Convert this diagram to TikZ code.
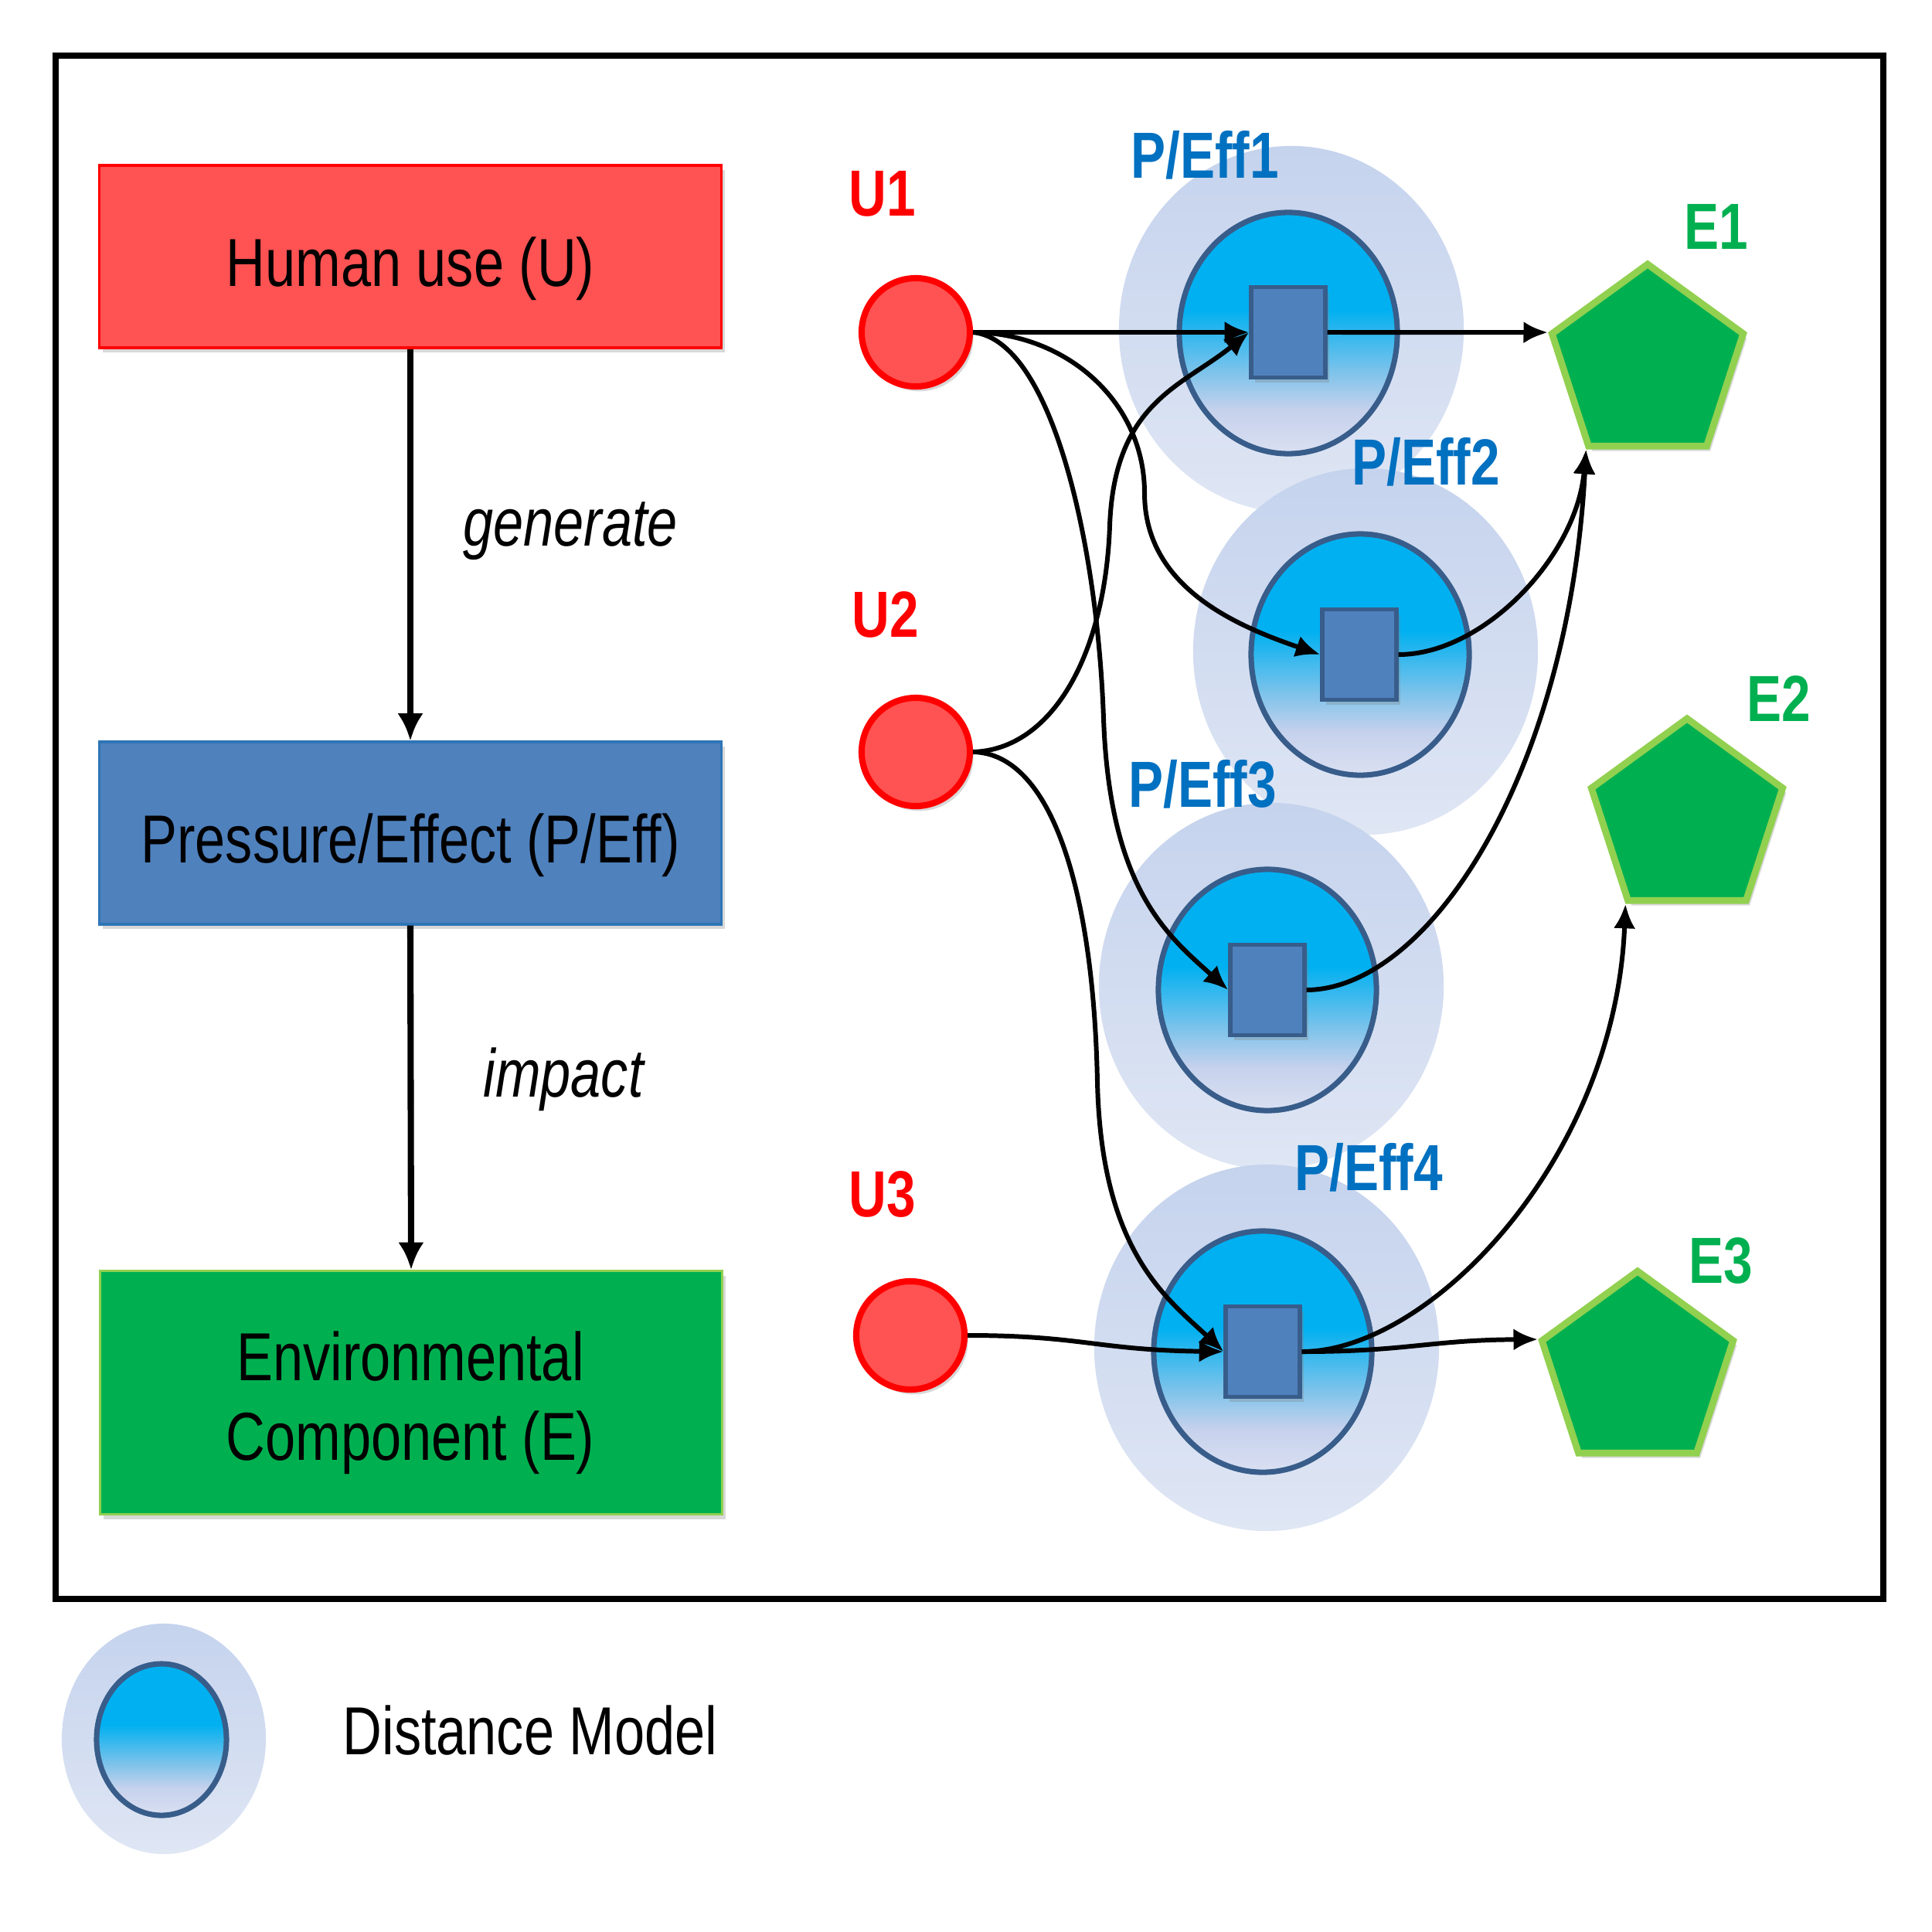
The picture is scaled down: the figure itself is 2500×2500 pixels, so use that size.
\documentclass[tikz,border=0pt]{standalone}
\usepackage{fontspec}
\usepackage{graphicx}
\newfontfamily\cf[FakeStretch=0.8]{Liberation Sans}
\usetikzlibrary{shapes.geometric,arrows.meta,shadows}
\definecolor{ufill}{RGB}{255,82,82}
\definecolor{uline}{RGB}{255,0,0}
\definecolor{pfill}{RGB}{79,129,189}
\definecolor{pline}{RGB}{56,93,138}
\definecolor{pboxline}{RGB}{46,117,182}
\definecolor{efill}{RGB}{0,176,80}
\definecolor{eline}{RGB}{146,208,80}
\definecolor{plabel}{RGB}{0,112,192}
\definecolor{halotop}{RGB}{197,211,237}
\definecolor{halobot}{RGB}{223,230,244}
\definecolor{intop}{RGB}{0,176,240}
\definecolor{inlight}{RGB}{125,195,235}
\definecolor{inlav}{RGB}{198,209,236}
\definecolor{inbot}{RGB}{218,224,242}
\pgfdeclareverticalshading{inshade}{100bp}{color(0bp)=(inbot); color(25bp)=(inbot); color(34bp)=(inlav); color(42bp)=(inlight); color(55bp)=(intop); color(100bp)=(intop)}
\tikzset{
  shad/.style={drop shadow={shadow xshift=1.3pt, shadow yshift=-1.8pt, opacity=0.3}},
  bigbox/.style={rectangle, minimum width=8.04cm, line width=0.9pt, shad},
  ucirc/.style={circle, minimum size=1.40cm, inner sep=0pt, fill=ufill, draw=uline, line width=2.3pt, shad},
  halo/.style={ellipse, minimum width=4.46cm, minimum height=4.74cm, inner sep=0pt, top color=halotop, bottom color=halobot, draw=none},
  inner/.style={ellipse, minimum width=2.82cm, minimum height=3.12cm, inner sep=0pt, shading=inshade, draw=pline, line width=2pt},
  sq/.style={rectangle, minimum width=0.96cm, minimum height=1.17cm, inner sep=0pt, fill=pfill, draw=pline, line width=1.5pt, shad},
  pent/.style={regular polygon, regular polygon sides=5, minimum size=2.6cm, inner sep=0pt, fill=efill, draw=eline, line width=2.5pt, shad},
  boxtxt/.style={font=\cf\fontsize{25}{30}\selectfont, anchor=base, inner sep=0pt},
  lab/.style={font=\cf\bfseries\fontsize{24}{28}\selectfont, anchor=base, inner sep=0pt},
  arr/.style={-{Latex[length=9pt,width=8pt]}, line width=1.7pt},
  bigarr/.style={-{Latex[length=10pt,width=9.5pt]}, line width=2.3pt},
}
\begin{document}
\begin{tikzpicture}[x=0.01cm,y=-0.01cm]
\useasboundingbox (0,0) rectangle (2500,2500);
\fill[white] (0,0) rectangle (2500,2500);
% frame
\node[draw, line width=2.3pt, minimum width=23.63cm, minimum height=19.95cm, inner sep=0pt] (frame) at (1254.5,1070.5) {};
% left boxes
\node[bigbox, minimum height=2.36cm, fill=ufill, draw=uline] (hu) at (531,332) {};
\node[bigbox, minimum height=2.36cm, fill=pfill, draw=pboxline] (pe) at (531,1078) {};
\node[bigbox, minimum height=3.15cm, fill=efill, draw=eline] (env) at (532,1802) {};
\node[boxtxt] (hut) at (531,370) {Human use (U)};
\node[boxtxt] (pet) at (531,1116) {Pressure/Effect (P/Eff)};
\node[boxtxt] (envt1) at (531,1786) {Environmental};
\node[boxtxt] (envt2) at (531,1889) {Component (E)};
\draw[bigarr] (hu.south) -- (pe.north);
\draw[bigarr] (pe.south) -- (env.north);
\node[boxtxt, font=\cf\itshape\fontsize{25}{30}\selectfont] (gen) at (738,706) {generate};
\node[boxtxt, font=\cf\itshape\fontsize{25}{30}\selectfont] (imp) at (729,1419) {impact};
% halos
\node[halo] (h1) at (1671,426) {};
\node[halo] (h2) at (1767,843) {};
\node[halo] (h3) at (1645,1276) {};
\node[halo] (h4) at (1639,1744) {};
\node[inner] (i1) at (1667,431) {};
\node[inner] (i2) at (1760,847) {};
\node[inner] (i3) at (1640,1281) {};
\node[inner] (i4) at (1634,1749) {};
\node[sq] (s1) at (1667,430) {};
\node[sq] (s2) at (1759,847) {};
\node[sq] (s3) at (1640,1281) {};
\node[sq] (s4) at (1634,1749) {};
% users
\node[ucirc] (u1) at (1185,430) {};
\node[ucirc] (u2) at (1185,973) {};
\node[ucirc] (u3) at (1178,1728) {};
% environment
\node[pent] (e1) at (2132,472) {};
\node[pent] (e2) at (2183,1060) {};
\node[pent] (e3) at (2119,1775) {};
% labels
\node[lab, text=uline] (lu1) at (1142,279) {U1};
\node[lab, text=uline] (lu2) at (1146,824) {U2};
\node[lab, text=uline] (lu3) at (1142,1574) {U3};
\node[lab, text=plabel] (lp1) at (1559,231) {P/Eff1};
\node[lab, text=plabel] (lp2) at (1845,627) {P/Eff2};
\node[lab, text=plabel] (lp3) at (1556,1044) {P/Eff3};
\node[lab, text=plabel] (lp4) at (1771,1540) {P/Eff4};
\node[lab, text=efill] (le1) at (2221,322) {E1};
\node[lab, text=efill] (le2) at (2302,933) {E2};
\node[lab, text=efill] (le3) at (2227,1660) {E3};
% connectors
\draw[arr] (u1.east) -- (s1.west);
\draw[arr] (s1.east) -- (e1.corner 2);
\draw[arr] (u1.east) .. controls (1380,431) and (1481,520) .. (1481,638) .. controls (1481,760) and (1600,810) .. (s2.west);
\draw[arr] (u1.east) .. controls (1360,440) and (1420,700) .. (1428,930) .. controls (1436,1150) and (1510,1210) .. (s3.west);
\draw[arr] (u2.east) .. controls (1360,970) and (1430,850) .. (1436,680) .. controls (1442,520) and (1530,500) .. (s1.west);
\draw[arr] (u2.east) .. controls (1360,975) and (1415,1150) .. (1420,1400) .. controls (1425,1620) and (1510,1680) .. (s4.west);
\draw[arr] (u3.east) .. controls (1400,1728) and (1420,1747) .. (s4.west);
\draw[arr] (s4.east) .. controls (1820,1749) and (1850,1734) .. (e3.corner 2);
\draw[arr] (s4.east) .. controls (1850,1749) and (2090,1500) .. (e2.corner 3);
\draw[arr] (s2.east) .. controls (1920,847) and (2040,720) .. (e1.corner 3);
\draw[arr] (s3.east) .. controls (1850,1280) and (2030,1000) .. (e1.corner 3);
% legend
\node[halo, minimum width=2.64cm, minimum height=2.98cm] (lh) at (212,2250) {};
\node[inner, minimum width=1.68cm, minimum height=1.96cm] (li) at (209,2251) {};
\node[boxtxt] (lt) at (686,2270) {Distance Model};
\end{tikzpicture}
\end{document}
